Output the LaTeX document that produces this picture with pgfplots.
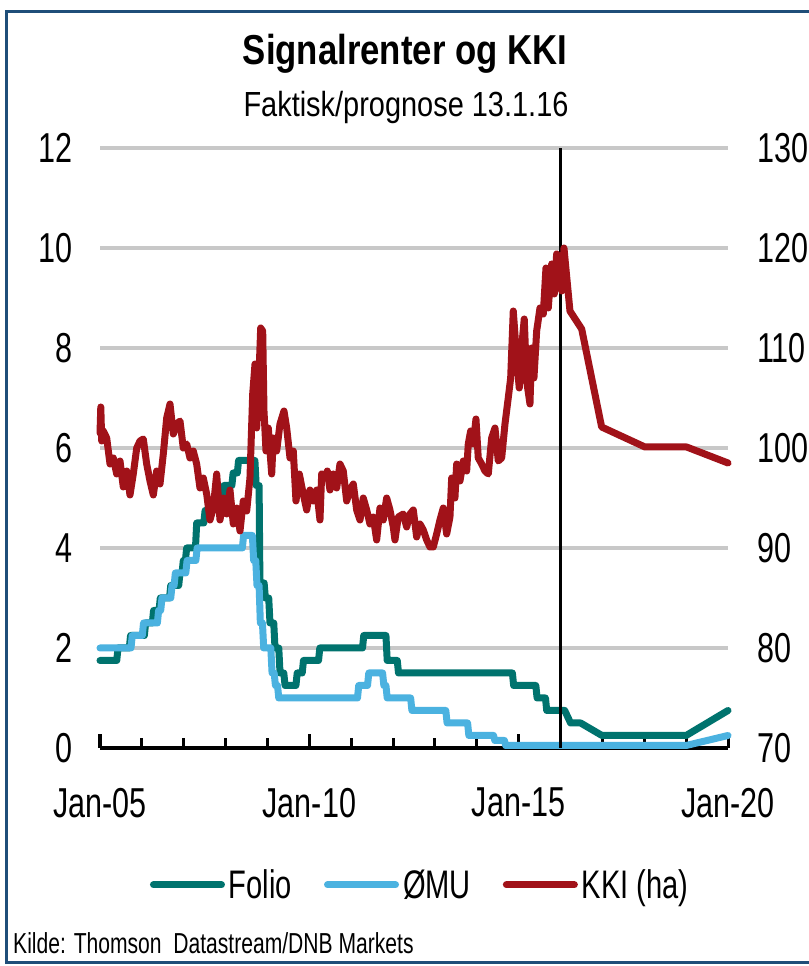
\documentclass[border=0pt]{standalone}
\usepackage{fontspec}
\setmainfont{Liberation Sans}[FakeStretch=0.73]
\newfontfamily\titlefont{Liberation Sans}[FakeStretch=0.83]
\usepackage{pgfplots}
\pgfplotsset{compat=1.18}
\definecolor{folio}{HTML}{00736E}
\definecolor{omu}{HTML}{4BB2E0}
\definecolor{kki}{HTML}{A11219}
\definecolor{gridgray}{HTML}{C8C8C8}
\definecolor{framecol}{HTML}{1F4E79}
\pgfplotsset{
  folio/.style={draw=folio, line width=7bp, line join=round, line cap=round},
  omu/.style={draw=omu, line width=7bp, line join=round, line cap=round},
  kki/.style={draw=kki, line width=7bp, line join=round, line cap=round},
}
\begin{document}
\begin{tikzpicture}
\useasboundingbox (0,0) rectangle (809bp,966bp);
\fill[white] (0,0) rectangle (809bp,966bp);
\draw[framecol, line width=3bp] (6bp,3bp) rectangle (840bp,954bp);

\node[anchor=base, font=\titlefont\bfseries\fontsize{42}{42}\selectfont] at (405bp,901bp) {Signalrenter og KKI};
\node[anchor=base, font=\titlefont\fontsize{35}{35}\selectfont] at (406bp,849bp) {Faktisk/prognose 13.1.16};
\node[anchor=base west, inner sep=0pt, font=\fontsize{29}{29}\selectfont] at (13bp,13bp) {Kilde: Thomson\ \ Datastream/DNB Markets};

\begin{axis}[
  at={(100bp,218bp)}, anchor=south west, scale only axis,
  width=628bp, height=600bp,
  xmin=2005, xmax=2020, ymin=0, ymax=12,
  clip=false,
  axis x line*=bottom, axis y line*=left,
  y axis line style={draw=none},
  x axis line style={line width=4bp, black},
  xtick={2005,2010,2015,2020},
  xticklabels={Jan-05,Jan-10,Jan-15,Jan-20},
  minor xtick={2006,2007,2008,2009,2011,2012,2013,2014,2016,2017,2018,2019},
  tick align=inside,
  major tick length=14bp, minor tick length=10bp,
  xtick style={line width=3bp, black},
  ytick={0,2,...,12},
  ytick style={draw=none},
  ymajorgrids,
  major grid style={line width=4.5bp, gridgray},
  /pgf/number format/assume math mode=true,
  every tick label/.append style={font=\fontsize{42}{42}\selectfont},
  yticklabel style={anchor=east, inner sep=0pt, xshift=-27bp},
  xticklabel style={anchor=north, inner sep=0pt, yshift=-40bp},
]
\addplot[folio] coordinates {
(2005.00,1.75)(2005.40,1.75)(2005.43,2.0)(2005.70,2.0)(2005.73,2.25)(2006.06,2.25)(2006.09,2.5)(2006.25,2.5)(2006.28,2.75)(2006.41,2.75)(2006.44,3.0)(2006.66,3.0)(2006.69,3.25)(2006.88,3.25)(2006.91,3.5)(2006.96,3.5)(2006.99,3.75)(2007.04,3.75)(2007.07,4.0)(2007.28,4.0)(2007.31,4.5)(2007.48,4.5)(2007.51,4.75)(2007.70,4.75)(2007.73,5.0)(2007.93,5.0)(2007.96,5.25)(2008.15,5.25)(2008.18,5.5)(2008.28,5.5)(2008.31,5.75)(2008.70,5.75)(2008.73,5.25)(2008.80,5.25)(2008.82,3.3)(2008.92,3.3)(2008.95,3.0)(2009.03,3.0)(2009.06,2.5)(2009.15,2.5)(2009.18,2.0)(2009.27,2.0)(2009.30,1.5)(2009.39,1.5)(2009.42,1.25)(2009.68,1.25)(2009.71,1.5)(2009.83,1.5)(2009.86,1.75)(2010.22,1.75)(2010.25,2.0)(2011.27,2.0)(2011.30,2.25)(2011.83,2.25)(2011.86,1.75)(2012.10,1.75)(2012.13,1.5)(2014.85,1.5)(2014.88,1.25)(2015.41,1.25)(2015.44,1.0)(2015.64,1.0)(2015.67,0.75)(2016.10,0.75)(2016.24,0.5)(2016.48,0.5)(2016.99,0.25)(2019.0,0.25)(2020.0,0.75)
};
\addplot[omu] coordinates {
(2005.0,2.0)(2005.74,2.0)(2005.77,2.25)(2006.01,2.25)(2006.04,2.5)(2006.37,2.5)(2006.40,2.75)(2006.45,2.75)(2006.48,3.0)(2006.69,3.0)(2006.72,3.25)(2006.77,3.25)(2006.80,3.5)(2007.05,3.5)(2007.08,3.75)(2007.29,3.75)(2007.32,4.0)(2008.40,4.0)(2008.43,4.25)(2008.64,4.25)(2008.67,3.75)(2008.72,3.75)(2008.75,3.25)(2008.80,3.25)(2008.83,2.5)(2008.88,2.5)(2008.91,2.0)(2009.08,2.0)(2009.11,1.5)(2009.16,1.5)(2009.19,1.25)(2009.24,1.25)(2009.27,1.0)(2011.15,1.0)(2011.18,1.25)(2011.39,1.25)(2011.42,1.5)(2011.75,1.5)(2011.78,1.25)(2011.83,1.25)(2011.86,1.0)(2012.42,1.0)(2012.45,0.75)(2013.26,0.75)(2013.29,0.5)(2013.78,0.5)(2013.81,0.25)(2014.40,0.25)(2014.43,0.15)(2014.66,0.15)(2014.69,0.05)(2019.0,0.05)(2020.0,0.25)
};
\end{axis}

\begin{axis}[
  at={(100bp,218bp)}, anchor=south west, scale only axis,
  width=628bp, height=600bp,
  xmin=2005, xmax=2020, ymin=70, ymax=130,
  clip=false,
  axis y line*=right, axis x line=none,
  y axis line style={draw=none},
  ytick={70,80,...,130},
  ytick style={draw=none},
  /pgf/number format/assume math mode=true,
  every tick label/.append style={font=\fontsize{42}{42}\selectfont},
  yticklabel style={anchor=west, inner sep=0pt, xshift=29bp},
  legend columns=3,
  legend style={at={(0.51,-0.228)}, anchor=center, draw=none, fill=none,
    font=\fontsize{40}{40}\selectfont,
    /tikz/every even column/.append style={column sep=30bp},
    /tikz/every odd column/.append style={column sep=2bp}},
  legend image code/.code={\draw[#1] (0bp,0bp) -- (68bp,0bp);},
]
\addlegendimage{folio}\addlegendentry{Folio}
\addlegendimage{omu}\addlegendentry{ØMU}
\draw[black, line width=2.5bp] (axis cs:2016.0,70) -- (axis cs:2016.0,130);
\addplot[kki] table {
2005.000 101.5
2005.019 104.1
2005.041 100.7
2005.079 101.7
2005.160 101.0
2005.239 98.4
2005.318 99.0
2005.399 97.4
2005.478 98.7
2005.556 96.1
2005.638 97.7
2005.716 95.3
2005.795 97.4
2005.877 100.0
2005.955 100.7
2006.034 100.9
2006.115 98.4
2006.194 96.7
2006.273 95.3
2006.354 97.7
2006.433 96.4
2006.512 99.4
2006.593 103.0
2006.672 104.4
2006.751 101.4
2006.832 102.4
2006.911 102.7
2006.989 100.0
2007.071 100.4
2007.149 99.0
2007.228 99.7
2007.309 98.4
2007.388 96.0
2007.467 97.0
2007.548 95.4
2007.627 92.8
2007.706 94.0
2007.787 97.4
2007.866 92.8
2007.945 95.0
2008.026 93.4
2008.105 95.8
2008.184 92.4
2008.265 94.0
2008.344 91.7
2008.422 94.7
2008.504 93.7
2008.582 97.0
2008.647 105.4
2008.702 108.4
2008.742 102.0
2008.781 105.4
2008.838 112.0
2008.886 111.7
2008.917 103.7
2008.965 99.7
2009.020 102.0
2009.101 97.4
2009.139 101.0
2009.220 99.7
2009.299 102.4
2009.394 103.7
2009.459 102.0
2009.538 99.0
2009.617 99.7
2009.681 94.7
2009.760 97.4
2009.855 95.4
2009.937 93.8
2010.015 95.8
2010.094 94.7
2010.176 95.8
2010.254 92.8
2010.295 97.4
2010.374 97.0
2010.429 97.7
2010.493 95.8
2010.572 97.4
2010.653 96.0
2010.732 98.4
2010.811 97.7
2010.892 94.7
2010.971 95.8
2011.050 96.4
2011.131 93.8
2011.210 92.8
2011.288 95.0
2011.370 93.8
2011.448 92.4
2011.527 93.1
2011.608 90.8
2011.687 94.0
2011.766 92.8
2011.847 95.0
2011.926 93.8
2012.005 92.1
2012.045 90.8
2012.124 93.1
2012.244 93.4
2012.325 92.1
2012.404 93.4
2012.483 93.8
2012.564 91.1
2012.643 92.4
2012.722 91.8
2012.803 90.8
2012.881 90.1
2012.960 90.1
2013.041 91.4
2013.120 92.8
2013.199 94.0
2013.280 91.4
2013.359 93.1
2013.400 97.0
2013.478 95.0
2013.519 98.4
2013.598 96.7
2013.677 98.7
2013.758 97.7
2013.796 100.4
2013.853 101.7
2013.916 100.4
2013.980 102.9
2014.035 99.0
2014.116 98.4
2014.195 97.7
2014.274 97.4
2014.355 101.0
2014.434 102.0
2014.513 98.7
2014.594 99.0
2014.673 102.4
2014.751 105.0
2014.809 107.0
2014.871 113.7
2014.952 109.0
2015.014 106.0
2015.071 110.0
2015.133 112.9
2015.191 106.7
2015.270 104.4
2015.310 110.0
2015.365 107.0
2015.430 111.7
2015.509 114.0
2015.588 113.4
2015.652 118.0
2015.707 114.0
2015.788 118.4
2015.850 115.4
2015.907 119.4
2015.986 119.0
2016.027 115.7
2016.082 120.0
2016.225 113.7
2016.505 111.9
2016.982 102.1
2018.016 100.1
2019.012 100.1
2020.000 98.5
};
\addlegendentry{KKI (ha)}
\end{axis}
\end{tikzpicture}
\end{document}
